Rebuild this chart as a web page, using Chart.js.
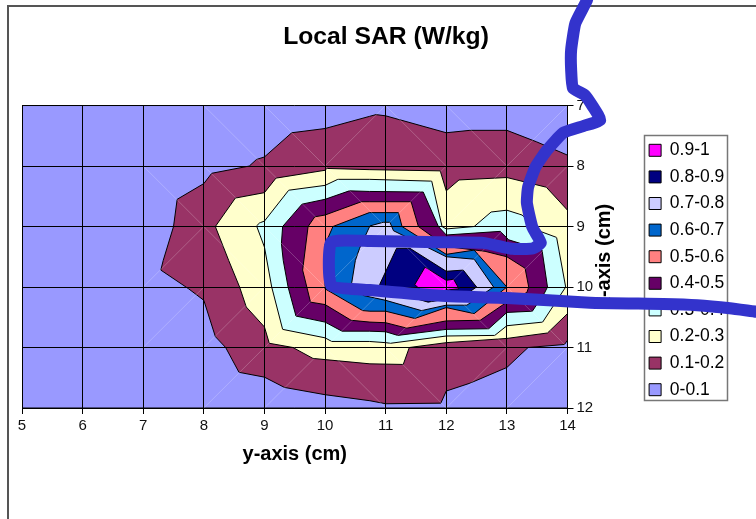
<!DOCTYPE html>
<html>
<head>
<meta charset="utf-8">
<title>Local SAR</title>
<script src="https://cdn.jsdelivr.net/npm/chart.js@4"></script>
<style>
  html, body { margin: 0; background: #fff; overflow: hidden; }
  #frame { position: absolute; left: 7px; top: 5px; width: 760px; height: 530px; border-left: 2px solid #555; border-top: 2px solid #555; }
  #chart { position: absolute; left: 0; top: 0; }
</style>
</head>
<body>
<div id="frame"></div>
<canvas id="chart" width="756" height="519"></canvas>
<script>
const xTicks = [5, 6, 7, 8, 9, 10, 11, 12, 13, 14];
const yTicks = [7, 8, 9, 10, 11, 12];

const bandLabels = ['0.9-1', '0.8-0.9', '0.7-0.8', '0.6-0.7', '0.5-0.6', '0.4-0.5', '0.3-0.4', '0.2-0.3', '0.1-0.2', '0-0.1'];
const bandColors = ['#ff00ff', '#000080', '#ccccff', '#0066cc', '#ff8080', '#660066', '#ccffff', '#ffffcc', '#993366', '#9999ff'];

// contour outlines, [y-axis cm, x-axis cm]
const level09 = [[11.65,9.67],[11.48,9.96],[11.68,10.14],[12,10.05],[12.21,10.03],[12.12,9.87],[12,9.89]];
const level08 = [[10.9,9.96],[11.18,9.36],[11.4,9.36],[12,9.74],[12.28,9.72],[12.5,10],[12.34,10.11],[12,10.2],[11.7,10.25],[11,10.05]];
const level07 = [[10.44,9.93],[10.5,9.56],[10.57,9.36],[10.74,8.99],[10.96,8.93],[11.07,8.93],[11.13,9.07],[11.6,9.3],[12,9.5],[12.46,9.54],[12.78,10],[12.34,10.3],[12,10.3],[11.59,10.39],[11,10.22],[10.63,10.14]];
const level06 = [[10,10.03],[10,9.3],[10.13,9],[10.73,8.77],[11.21,8.77],[11.27,9],[12,9.46],[12.46,9.39],[13,10],[12.46,10.44],[12,10.34],[11.48,10.52],[11,10.4],[10.74,10.4],[10.62,10.39]];
const level05 = [[9.76,10.25],[9.63,9.72],[9.72,9],[9.83,8.84],[10,8.81],[10.6,8.59],[10.73,8.59],[11.42,8.59],[11.54,9],[12,9.33],[12.64,9.41],[13,9.5],[13.3,9.69],[13.36,10],[13.33,10.09],[13,10.25],[12.56,10.55],[12,10.56],[11.35,10.68],[11,10.59],[10.74,10.58],[10.43,10.55],[10,10.29]];
const level04 = [[9.39,10],[9.31,9.56],[9.28,9.28],[9.3,9],[9.62,8.63],[10,8.55],[10.4,8.41],[10.73,8.42],[11.62,8.43],[11.87,9],[12,9.14],[12.89,9.08],[13.03,9.22],[13.58,9.39],[13.67,10],[13.62,10.1],[13.42,10.4],[13,10.42],[12.7,10.69],[12,10.7],[11.2,10.8],[11,10.74],[10.73,10.73],[10.28,10.73],[10,10.58],[9.52,10.48]];
const level03 = [[8.87,8.99],[8.92,8.94],[9,8.91],[9.4,8.4],[10,8.32],[10.21,8.22],[10.73,8.22],[11.76,8.25],[11.93,9],[12,9.04],[12.46,9],[12.74,8.76],[13,8.73],[13.25,8.81],[13.55,9.08],[13.82,9.18],[13.97,10],[13.59,10.58],[13,10.64],[12.8,10.8],[12,10.81],[11.08,10.93],[11,10.92],[10.73,10.9],[10.11,10.9],[10,10.84],[9.3,10.7],[9.12,10],[9,9.34]];
const level02 = [[8.19,9],[8.52,8.53],[9,8.44],[9.19,8.2],[10,8.07],[10.03,8.04],[10.74,8.06],[11.9,8.08],[12,8.41],[12.21,8.23],[13,8.19],[13.65,8.35],[14,8.73],[14,10.44],[13.67,10.76],[13,10.85],[12,10.92],[11.39,11],[11.29,11.28],[10.74,11.27],[10,11.2],[9.8,11.18],[9.47,11],[9.08,10.93],[9,10.66],[8.7,10.33],[8.59,10],[8.41,9.56]];
const level01 = [[7.29,9.72],[7.33,9.56],[7.5,9],[7.56,8.55],[8,8.29],[8.13,8.12],[8.75,8],[8.87,7.89],[9,7.85],[9.45,7.45],[10,7.38],[10.73,7.18],[10.84,7.15],[11,7.17],[12,7.45],[12.39,7.41],[13,7.41],[13.49,7.6],[14,7.82],[14,10.88],[13.95,10.95],[13.35,11],[13,11.33],[12.39,11.59],[12,11.72],[11.91,11.92],[11,11.93],[10.74,11.88],[10,11.78],[9.33,11.66],[9,11.49],[8.58,11.41],[8.36,11],[8.19,10.82],[8,10.22],[7.75,10.03]];
const level00 = [[5,7],[14,7],[14,12],[5,12]];
const bandOutlines = [level09, level08, level07, level06, level05, level04, level03, level02, level01, level00];

// faint white seams the plot has along cell diagonals, [column, row]
const seamsDown = [[7,8],[8,7],[8,8],[8,9],[9,7],[9,8],[9,9],[10,8],[11,7],[12,7],[11,9],[12,10],[13,10],[11,11],[10,11]];
const seamsUp = [[7,9],[7,10],[8,10],[8,11],[9,10],[9,11],[10,7],[10,9],[10,10],[11,8],[11,10],[12,8],[12,9],[12,11],[13,7],[13,8],[13,9],[13,11]];

// hand drawn pen stroke over the chart
const penStroke = [[14.35,5.1],[14.32,5.26],[14.13,5.64],[14.06,6.08],[14.06,6.41],[14.09,6.71],[14.29,6.83],[14.42,7.02],[14.54,7.24],[14.26,7.34],[13.93,7.45],[13.66,7.74],[13.47,8.02],[13.35,8.35],[13.33,8.61],[13.42,9.01],[13.56,9.27],[13.43,9.36],[13.1,9.37],[12.61,9.27],[11.85,9.26],[10.74,9.24],[10.1,9.26],[10.1,9.97],[10.74,10.05],[11.99,10.15],[13,10.18],[14.37,10.26],[15.58,10.28],[16.14,10.3],[16.68,10.35],[17.13,10.41],[17.4,10.44]];

const toPoints = list => list.map(p => ({ x: p[0], y: p[1] }));

const seamPoints = [];
seamsDown.forEach(c => seamPoints.push({ x: c[0], y: c[1] }, { x: c[0] + 1, y: c[1] + 1 }, { x: c[0], y: null }));
seamsUp.forEach(c => seamPoints.push({ x: c[0], y: c[1] + 1 }, { x: c[0] + 1, y: c[1] }, { x: c[0], y: null }));

const datasets = [{
  label: 'seams',
  data: seamPoints,
  showLine: true,
  borderColor: 'rgba(255,255,255,0.22)',
  borderWidth: 1,
  pointRadius: 0,
  fill: false,
  spanGaps: false
}];

bandOutlines.forEach((outline, i) => {
  datasets.push({
    label: bandLabels[i],
    data: toPoints(outline.concat([outline[0]])),
    showLine: true,
    fill: 'shape',
    backgroundColor: bandColors[i],
    borderColor: '#000',
    borderWidth: 1,
    pointRadius: 0
  });
});

datasets.push({
  label: 'pen',
  data: toPoints(penStroke),
  showLine: true,
  fill: false,
  borderColor: '#3333cc',
  borderWidth: 12,
  borderCapStyle: 'round',
  borderJoinStyle: 'round',
  tension: 0.15,
  pointRadius: 0,
  clip: false
});
const penIndex = datasets.length - 1;

// the pen goes over grid lines too, and those draw after the datasets
let penTurn = false;
const penOnTop = {
  id: 'penOnTop',
  beforeDatasetDraw(chart, args) {
    if (args.index === penIndex && !penTurn) return false;
  },
  afterDraw(chart) {
    penTurn = true;
    chart.getDatasetMeta(penIndex).controller.draw();
    penTurn = false;
  }
};

// legend frame, and the right axis title which reads upward here
const extras = {
  id: 'extras',
  afterLayout(chart) {
    const lg = chart.legend;
    const dx = 640 - lg.left;
    lg.left += dx;
    lg.right += dx;
  },
  beforeDatasetsDraw(chart) {
    const ctx = chart.ctx;
    ctx.save();
    ctx.strokeStyle = '#777';
    ctx.lineWidth = 1.5;
    ctx.strokeRect(644.5, 135.5, 83, 265);
    ctx.fillStyle = '#000';
    ctx.font = 'bold 20px "Liberation Sans", Arial, sans-serif';
    ctx.textAlign = 'center';
    ctx.textBaseline = 'middle';
    ctx.translate(604, 256);
    ctx.rotate(-Math.PI / 2);
    ctx.fillText('x-axis (cm)', 0, 0);
    ctx.restore();
  }
};

new Chart(document.getElementById('chart'), {
  type: 'scatter',
  data: { datasets },
  plugins: [penOnTop, extras],
  options: {
    responsive: false,
    animation: false,
    devicePixelRatio: 1,
    layout: { padding: { left: 22, right: 6, top: 21, bottom: 0 } },
    plugins: {
      tooltip: { enabled: false },
      title: {
        display: true,
        text: 'Local SAR (W/kg)',
        color: '#000',
        font: { family: '"Liberation Sans", Arial, sans-serif', size: 24.7, weight: 'bold', lineHeight: 1.2 },
        padding: { top: 1.2, bottom: 53.7 }
      },
      legend: {
        position: 'right',
        labels: {
          filter: item => bandLabels.includes(item.text),
          color: '#000',
          boxWidth: 12,
          boxHeight: 12,
          padding: 9.1,
          font: { family: '"Liberation Sans", Arial, sans-serif', size: 17.5 }
        }
      }
    },
    scales: {
      x: {
        type: 'linear',
        min: 5,
        max: 14,
        afterBuildTicks: s => { s.ticks = xTicks.map(v => ({ value: v })); },
        afterFit: s => { s.height = 111; },
        grid: { color: '#000', lineWidth: 1, tickLength: 6, z: 1 },
        border: { color: '#000', z: 1 },
        ticks: { color: '#111', padding: 3, maxRotation: 0, font: { family: '"Liberation Sans", Arial, sans-serif', size: 15 } },
        title: {
          display: true,
          text: 'y-axis (cm)',
          color: '#000',
          font: { family: '"Liberation Sans", Arial, sans-serif', size: 20, weight: 'bold', lineHeight: 1.2 },
          padding: { top: 4, bottom: 53 }
        }
      },
      y: {
        type: 'linear',
        position: 'right',
        reverse: true,
        min: 7,
        max: 12,
        afterBuildTicks: s => { s.ticks = yTicks.map(v => ({ value: v })); },
        afterFit: s => { s.width = 756 - 6 - s.chart.legend.width - 567.5; },
        grid: { color: '#000', lineWidth: 1, tickLength: 6, z: 1 },
        border: { color: '#000', z: 1 },
        ticks: { color: '#111', padding: 3, font: { family: '"Liberation Sans", Arial, sans-serif', size: 15 } }
      }
    }
  }
});
</script>
</body>
</html>
